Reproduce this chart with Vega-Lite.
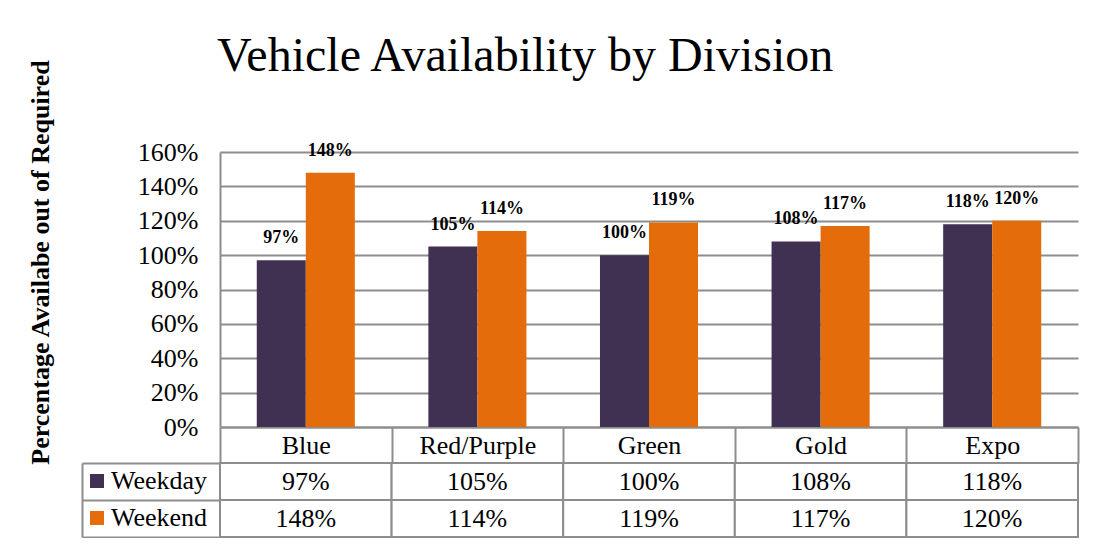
{
  "$schema": "https://vega.github.io/schema/vega-lite/v6.json",
  "background": "white",
  "padding": {"left": 26, "top": 33, "right": 10, "bottom": 0},
  "config": {"font": "Liberation Serif", "view": {"stroke": null}},
  "datasets": {
    "avail": [
      {"division": "Blue", "period": "Weekday", "value": 0.97},
      {"division": "Blue", "period": "Weekend", "value": 1.48},
      {"division": "Red/Purple", "period": "Weekday", "value": 1.05},
      {"division": "Red/Purple", "period": "Weekend", "value": 1.14},
      {"division": "Green", "period": "Weekday", "value": 1.00},
      {"division": "Green", "period": "Weekend", "value": 1.19},
      {"division": "Gold", "period": "Weekday", "value": 1.08},
      {"division": "Gold", "period": "Weekend", "value": 1.17},
      {"division": "Expo", "period": "Weekday", "value": 1.18},
      {"division": "Expo", "period": "Weekend", "value": 1.20}
    ]
  },
  "vconcat": [
    {
      "width": 858,
      "height": 275,
      "title": {
        "text": "Vehicle Availability by Division",
        "anchor": "start",
        "frame": "group",
        "dx": -3,
        "offset": -22,
        "fontSize": 48,
        "font": "Liberation Serif",
        "fontWeight": "normal",
        "color": "black"
      },
      "data": {"name": "avail"},
      "encoding": {
        "x": {
          "field": "division",
          "type": "nominal",
          "sort": ["Blue", "Red/Purple", "Green", "Gold", "Expo"],
          "scale": {"paddingInner": 0, "paddingOuter": 0},
          "axis": {
            "title": null,
            "orient": "bottom",
            "domain": true,
            "domainColor": "#8d8d8d",
            "domainWidth": 2,
            "ticks": true,
            "tickBand": "extent",
            "tickSize": 36,
            "tickColor": "#8d8d8d",
            "tickWidth": 2,
            "labelAngle": 0,
            "labelFontSize": 26,
            "labelColor": "black",
            "labelPadding": -31,
            "grid": false
          }
        },
        "y": {
          "field": "value",
          "type": "quantitative",
          "scale": {"domain": [0, 1.6], "nice": false},
          "axis": {
            "title": "Percentage Availabe out of Required",
            "titleFontSize": 26,
            "titleFontWeight": "bold",
            "titleColor": "black",
            "titleX": -167,
            "titleY": 110,
            "titleAngle": -90,
            "titleAlign": "center",
            "titleBaseline": "bottom",
            "values": [0, 0.2, 0.4, 0.6, 0.8, 1.0, 1.2, 1.4, 1.6],
            "format": ".0%",
            "labelFontSize": 26,
            "labelColor": "black",
            "labelPadding": 22,
            "ticks": false,
            "domain": true,
            "domainColor": "#8d8d8d",
            "domainWidth": 2,
            "grid": true,
            "gridColor": "#8d8d8d",
            "gridWidth": 2
          }
        },
        "xOffset": {
          "field": "period",
          "type": "nominal",
          "scale": {"paddingInner": 0, "paddingOuter": 0.75}
        }
      },
      "layer": [
        {
          "mark": {"type": "bar"},
          "encoding": {
            "color": {
              "field": "period",
              "type": "nominal",
              "scale": {"domain": ["Weekday", "Weekend"], "range": ["#403152", "#E46C0A"]},
              "legend": {
                "title": null,
                "orient": "none",
                "legendX": -136,
                "legendY": 316,
                "padding": 0,
                "symbolType": "square",
                "symbolSize": 196,
                "symbolStrokeWidth": 0,
                "labelFontSize": 26,
                "labelColor": "black",
                "labelFont": "Liberation Serif",
                "labelOffset": 1,
                "rowPadding": 11
              }
            }
          }
        },
        {
          "mark": {"type": "text", "dy": -22, "fontWeight": "bold", "fontSize": 18, "color": "black"},
          "encoding": {
            "text": {"field": "value", "type": "quantitative", "format": ".0%"}
          }
        }
      ]
    },
    {
      "width": 858,
      "height": 74,
      "data": {"name": "avail"},
      "encoding": {
        "x": {
          "field": "division",
          "type": "nominal",
          "sort": ["Blue", "Red/Purple", "Green", "Gold", "Expo"],
          "scale": {"paddingInner": 0, "paddingOuter": 0},
          "axis": null
        },
        "y": {
          "field": "period",
          "type": "nominal",
          "scale": {"paddingInner": 0, "paddingOuter": 0},
          "axis": {
            "title": null,
            "orient": "left",
            "offset": 138,
            "domain": true,
            "domainColor": "#8d8d8d",
            "domainWidth": 2,
            "ticks": true,
            "tickBand": "extent",
            "tickSize": -138,
            "tickColor": "#8d8d8d",
            "tickWidth": 2,
            "labels": false,
            "grid": false
          }
        }
      },
      "layer": [
        {"mark": {"type": "rect", "fill": "white", "stroke": "#8d8d8d", "strokeWidth": 2}},
        {
          "mark": {"type": "text", "fontSize": 26, "color": "black"},
          "encoding": {"text": {"field": "value", "type": "quantitative", "format": ".0%"}}
        }
      ]
    }
  ],
  "spacing": 36,
  "bounds": "flush",
  "resolve": {
    "scale": {"x": "independent", "y": "independent"},
    "legend": {"color": "independent"}
  }
}
